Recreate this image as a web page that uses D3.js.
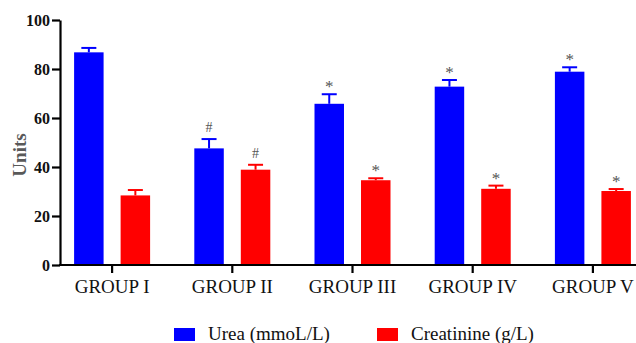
<!DOCTYPE html>
<html>
<head>
<meta charset="utf-8">
<script src="https://cdn.jsdelivr.net/npm/d3@7/dist/d3.min.js"></script>
<style>
  html, body { margin: 0; padding: 0; background: #fff; }
  svg { display: block; }
</style>
</head>
<body>
<svg id="chart" width="636" height="343"></svg>
<script>
// Serum urea and creatinine per treatment group (mean with SEM)
const groups = ["GROUP I", "GROUP II", "GROUP III", "GROUP IV", "GROUP V"];
const seriesNames = ["Urea (mmoL/L)", "Creatinine (g/L)"];
const ureaMean = [86.8, 47.6, 65.8, 72.8, 78.9];
const ureaErr = [1.8, 3.8, 3.9, 2.7, 1.8];
const creatinineMean = [28.4, 38.9, 34.6, 31.1, 30.2];
const creatinineErr = [2.2, 2.0, 0.8, 1.3, 0.8];
const ureaMarks = ["", "#", "*", "*", "*"];
const creatinineMarks = ["", "#", "*", "*", "*"];
const yTicks = [0, 20, 40, 60, 80, 100];
const colors = ["#0000ff", "#ff0000"];

const series = [
  { name: seriesNames[0], mean: ureaMean, err: ureaErr, marks: ureaMarks, color: colors[0] },
  { name: seriesNames[1], mean: creatinineMean, err: creatinineErr, marks: creatinineMarks, color: colors[1] }
];

const svg = d3.select("#chart");
const serif = "'Liberation Serif', 'Times New Roman', serif";

const x0 = d3.scaleBand().domain(groups).range([52, 653]).padding(0);
const x1 = d3.scaleBand().domain(seriesNames).range([-38, 38]).paddingInner(0.366);
const y = d3.scaleLinear().domain([0, 100]).range([265, 20]);
const axisLeftX = 60;

// Bars, error bars and significance marks
series.forEach(s => {
  const g = svg.append("g");
  groups.forEach((grp, i) => {
    const cx = x0(grp) + x0.bandwidth() / 2;
    const bx = cx + x1(s.name);
    const bw = x1.bandwidth();
    const mid = bx + bw / 2;
    const top = s.mean[i] + s.err[i];
    g.append("line")
      .attr("x1", mid).attr("x2", mid)
      .attr("y1", y(s.mean[i])).attr("y2", y(top))
      .attr("stroke", s.color).attr("stroke-width", 2);
    g.append("line")
      .attr("x1", mid - 7.5).attr("x2", mid + 7.5)
      .attr("y1", y(top)).attr("y2", y(top))
      .attr("stroke", s.color).attr("stroke-width", 2);
    g.append("rect")
      .attr("x", bx).attr("width", bw)
      .attr("y", y(s.mean[i])).attr("height", y(0) - y(s.mean[i]))
      .attr("fill", s.color);
    if (s.marks[i]) {
      const isHash = s.marks[i] === "#";
      g.append("text")
        .attr("x", mid)
        .attr("y", y(top) - (isHash ? 7 : 2))
        .attr("text-anchor", "middle")
        .attr("font-family", serif)
        .attr("font-size", isHash ? 14 : 17)
        .attr("fill", "#555")
        .text(s.marks[i]);
    }
  });
});

// Y axis
const yAxis = svg.append("g")
  .attr("transform", `translate(${axisLeftX},0)`)
  .call(d3.axisLeft(y).tickValues(yTicks).tickSize(8).tickPadding(2).tickSizeOuter(0));
yAxis.select(".domain").attr("stroke", "#000").attr("stroke-width", 2.2);
yAxis.selectAll(".tick line").attr("stroke", "#000").attr("stroke-width", 2.2);
yAxis.selectAll(".tick text")
  .attr("font-family", serif).attr("font-weight", "bold")
  .attr("font-size", 16).attr("fill", "#111");

// X axis
const xAxis = svg.append("g")
  .attr("transform", `translate(0,${y(0)})`)
  .call(d3.axisBottom(x0).tickSize(8).tickPadding(7).tickSizeOuter(0));
xAxis.select(".domain").attr("d", `M${axisLeftX - 1},0H636`).attr("stroke", "#000").attr("stroke-width", 2.2);
xAxis.selectAll(".tick line").attr("stroke", "#000").attr("stroke-width", 2.2);
xAxis.selectAll(".tick text")
  .attr("font-family", serif).attr("font-size", 19).attr("fill", "#111");

// Y axis title
svg.append("text")
  .attr("transform", "translate(26,155) rotate(-90)")
  .attr("text-anchor", "middle")
  .attr("font-family", serif).attr("font-weight", "bold")
  .attr("font-size", 19).attr("fill", "#595959")
  .text("Units");

// Legend
const legendX = [174, 377];
series.forEach((s, i) => {
  svg.append("rect")
    .attr("x", legendX[i]).attr("y", 328)
    .attr("width", 21).attr("height", 13)
    .attr("fill", s.color);
  svg.append("text")
    .attr("x", legendX[i] + 34).attr("y", 340)
    .attr("font-family", serif).attr("font-size", 19).attr("fill", "#111")
    .text(s.name);
});
</script>
</body>
</html>
